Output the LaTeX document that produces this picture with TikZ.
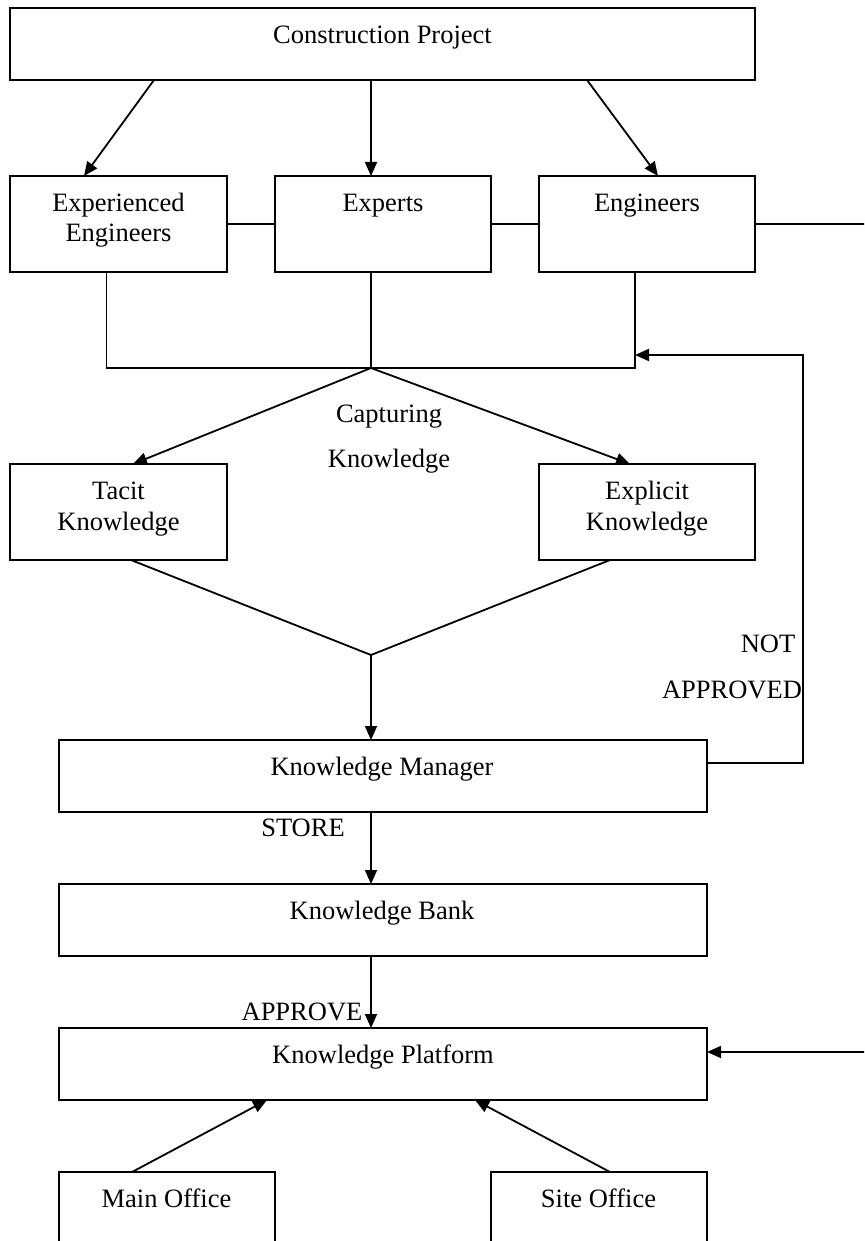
\documentclass[tikz,border=0pt]{standalone}
\usepackage{fontspec}
\setmainfont{Liberation Serif}
\usetikzlibrary{arrows.meta,calc}
\begin{document}
\begin{tikzpicture}[x=1pt,y=-1pt,
  box/.style={draw, line width=2pt, inner sep=0pt, outer sep=0pt},
  lbl/.style={font=\fontsize{26.5}{30.5}\selectfont, inner sep=0pt, align=center, anchor=base},
  conn/.style={line width=1.8pt},
  arr/.style={conn, -{Triangle[length=14pt,width=12pt]}}]
\useasboundingbox (0,0) rectangle (864,1241);
\clip (0,0) rectangle (864,1241);
% boxes
\node[box, minimum width=745pt, minimum height=72pt] (cp) at (382.5,44) {};
\node[box, minimum width=217pt, minimum height=96pt] (ee) at (118.5,224) {};
\node[box, minimum width=216pt, minimum height=96pt] (ex) at (383,224) {};
\node[box, minimum width=216pt, minimum height=96pt] (en) at (647,224) {};
\node[box, minimum width=217pt, minimum height=96pt] (tk) at (118.5,512) {};
\node[box, minimum width=216pt, minimum height=96pt] (ek) at (647,512) {};
\node[box, minimum width=648pt, minimum height=72pt] (km) at (383,776) {};
\node[box, minimum width=648pt, minimum height=72pt] (kb) at (383,920) {};
\node[box, minimum width=648pt, minimum height=72pt] (kp) at (383,1064) {};
\node[box, minimum width=216pt, minimum height=96pt] (mo) at (167,1220) {};
\node[box, minimum width=216pt, minimum height=96pt] (so) at (599,1220) {};
% texts (multi-line nodes are anchored at the baseline of their last line)
\node[lbl] (tcp) at (382.5,44) {Construction Project};
\node[lbl] (tee) at (118.5,242) {Experienced\\Engineers};
\node[lbl] (tex) at (383,212) {Experts};
\node[lbl] (ten) at (647,212) {Engineers};
\node[lbl, font=\fontsize{26.5}{45.5}\selectfont] (tcap) at (389,467.5) {Capturing\\Knowledge};
\node[lbl] (ttk) at (118.5,530) {Tacit\\Knowledge};
\node[lbl] (tek) at (647,530) {Explicit\\Knowledge};
\node[lbl] (tnot) at (768,652) {NOT};
\node[lbl] (tappd) at (732,698) {APPROVED};
\node[lbl] (tkm) at (382,775) {Knowledge Manager};
\node[lbl] (tstore) at (303,836) {STORE};
\node[lbl] (tkb) at (382,919) {Knowledge Bank};
\node[lbl] (tappr) at (302,1020) {APPROVE};
\node[lbl] (tkp) at (383,1063) {Knowledge Platform};
\node[lbl] (tmo) at (166.5,1207) {Main Office};
\node[lbl] (tso) at (598.5,1207) {Site Office};
% connectors
\draw[arr] ($(cp.south west)+(144,0)$) -- ($(ee.north west)+(74,0)$);
\draw[arr] ($(cp.south west)+(361,0)$) -- ($(ex.north west)+(96,0)$);
\draw[arr] ($(cp.south west)+(577,0)$) -- ($(en.north west)+(119,0)$);
\draw[conn] (ee.east) -- (ex.west);
\draw[conn] (ex.east) -- (en.west);
\draw[arr] (en.east) -- ++(150,0) |- ($(kp.east)+(0,-12)$);
\coordinate (j) at (371,368);
\draw[conn] ($(ee.south west)+(96.5,0)$) |- (j) -| ($(en.south west)+(96,0)$);
\draw[conn] ($(ex.south west)+(96,0)$) -- (j);
\draw[arr] (j) -- ($(tk.north west)+(123,0)$);
\draw[arr] (j) -- ($(ek.north west)+(91,0)$);
\coordinate (m) at (371,655);
\draw[conn] ($(tk.south west)+(121,0)$) -- (m) -- ($(ek.south west)+(71,0)$);
\draw[arr] (m) -- ($(km.north west)+(312,0)$);
\draw[arr] ($(km.east)+(0,-13)$) -- ++(96,0) |- ($(en.south west)+(96,83)$);
\draw[arr] ($(km.south west)+(312,0)$) -- ($(kb.north west)+(312,0)$);
\draw[arr] ($(kb.south west)+(312,0)$) -- ($(kp.north west)+(312,0)$);
\draw[arr] ($(mo.north west)+(73,0)$) -- ($(kp.south west)+(208,0)$);
\draw[arr] ($(so.north west)+(119,0)$) -- ($(kp.south west)+(416,0)$);
\end{tikzpicture}
\end{document}
